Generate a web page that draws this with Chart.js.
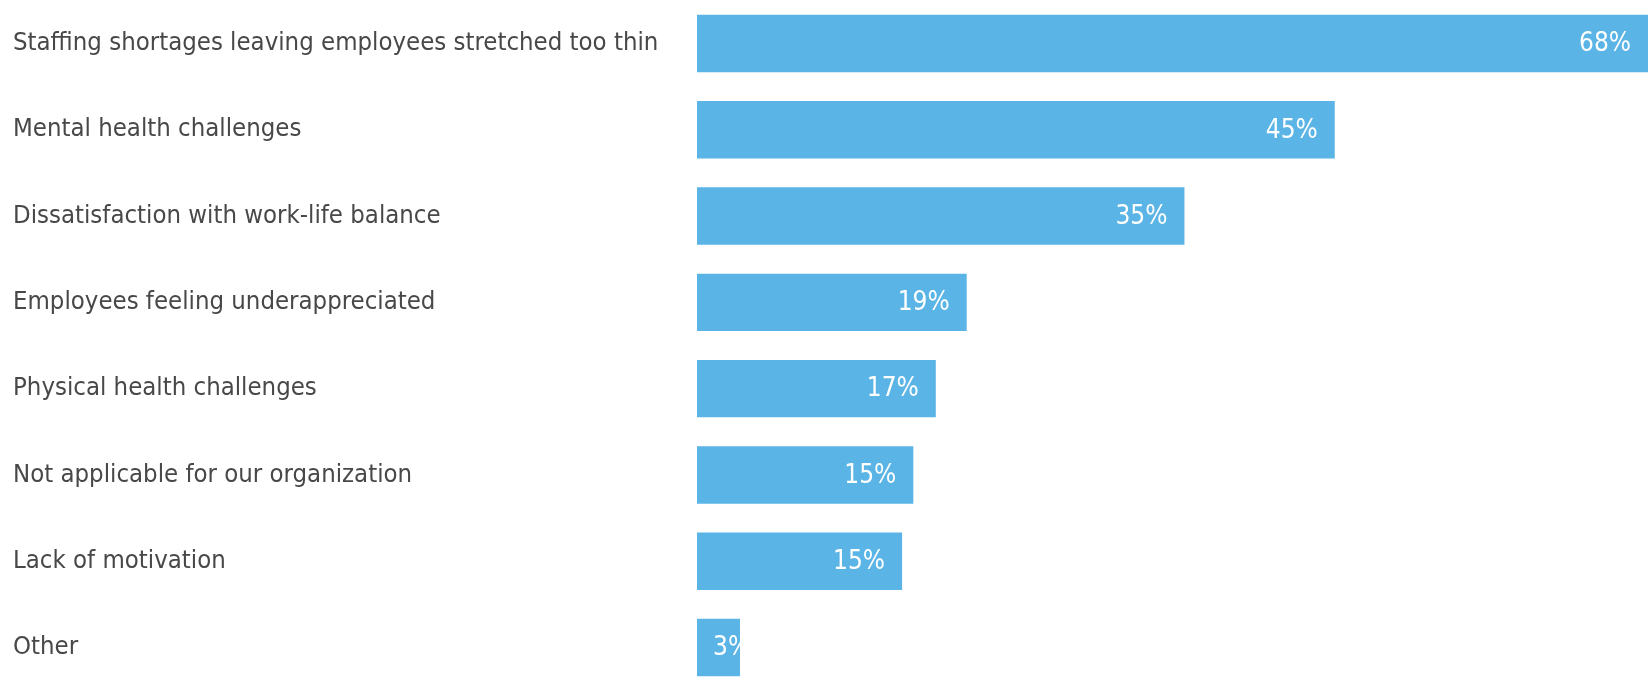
<!DOCTYPE html>
<html lang="en">
<head>
    <meta charset="UTF-8">
    <title>Employee challenges</title>
    <script src="https://cdn.jsdelivr.net/npm/chart.js"></script>
    <style>
        html, body { margin: 0; padding: 0; background: #fff; overflow: hidden; }
        /* taller box, pulled up so the tick-label padding falls outside the view */
        #wrap { width: 1648px; height: 721px; margin-top: -15px; position: relative; }
    </style>
</head>
<body>
    <div id="wrap"><canvas id="grafico"></canvas></div>

    <script>
        // categories, top to bottom
        const categorias = [
            'Staffing shortages leaving employees stretched too thin',
            'Mental health challenges',
            'Dissatisfaction with work-life balance',
            'Employees feeling underappreciated',
            'Physical health challenges',
            'Not applicable for our organization',
            'Lack of motivation',
            'Other'
        ];
        // share of respondents (%)
        const valores = [68, 45.4, 34.7, 19.2, 17.0, 15.4, 14.6, 3.06];

        const fuente = "'Liberation Sans Narrow', 'DejaVu Sans Condensed', sans-serif";

        // white value labels inside the bars
        const etiquetasValor = {
            id: 'etiquetasValor',
            afterDatasetsDraw(chart) {
                const ctx = chart.ctx;
                const area = chart.chartArea;
                const meta = chart.getDatasetMeta(0);
                meta.data.forEach((bar, i) => {
                    const fin = Math.min(bar.x, area.right);
                    const base = bar.base;
                    const h = bar.height;
                    const txt = Math.round(valores[i]) + '%';
                    ctx.save();
                    ctx.beginPath();
                    ctx.rect(base, bar.y - h / 2, fin - base, h);
                    ctx.clip();
                    ctx.font = '26px ' + fuente;
                    ctx.fillStyle = '#ffffff';
                    ctx.textBaseline = 'middle';
                    ctx.textAlign = 'left';
                    const w = ctx.measureText(txt).width;
                    let x = fin - 17 - w;
                    if (x < base + 16) x = base + 16;
                    ctx.fillText(txt, x, bar.y + 1);
                    ctx.restore();
                });
            }
        };

        const ctx = document.getElementById('grafico').getContext('2d');
        new Chart(ctx, {
            type: 'bar',
            data: {
                labels: categorias,
                datasets: [{
                    data: valores,
                    backgroundColor: '#5ab4e5',
                    borderWidth: 0,
                    barPercentage: 0.665,
                    categoryPercentage: 1
                }]
            },
            options: {
                indexAxis: 'y',
                responsive: true,
                maintainAspectRatio: false,
                animation: false,
                layout: { padding: { left: 13, right: 0, top: 0, bottom: 0 } },
                plugins: {
                    legend: { display: false },
                    tooltip: { enabled: false }
                },
                scales: {
                    x: {
                        display: false,
                        min: 0,
                        max: 67.7
                    },
                    y: {
                        grid: { display: false },
                        border: { display: false },
                        afterFit: (scale) => { scale.width = 684; },
                        ticks: {
                            crossAlign: 'far',
                            padding: 0,
                            color: '#484848',
                            font: { family: fuente, size: 25.5 }
                        }
                    }
                }
            },
            plugins: [etiquetasValor]
        });
    </script>
</body>
</html>
